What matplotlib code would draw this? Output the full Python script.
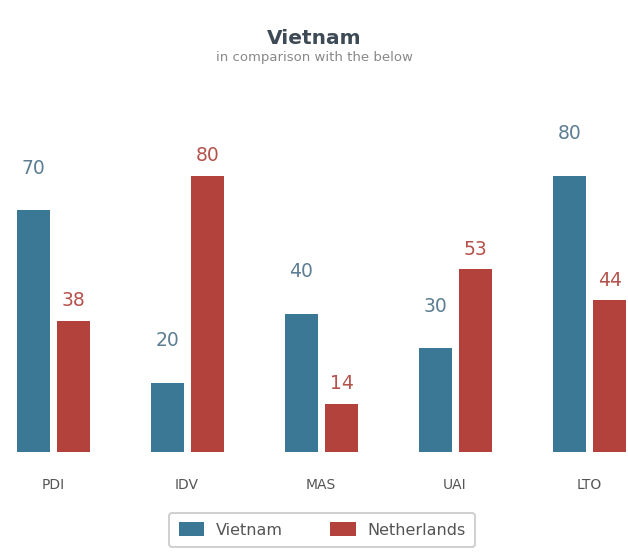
import numpy as np
import matplotlib.pyplot as plt

categories = ["PDI", "IDV", "MAS", "UAI", "LTO"]
vietnam = [70, 20, 40, 30, 80]
netherlands = [38, 80, 14, 53, 44]

blue = "#3b7896"
red = "#b3423d"

fig = plt.figure(figsize=(6.28, 5.52), dpi=100)
ax = fig.add_axes([0, 100 / 552, 1, 332 / 552])

x = np.arange(len(categories))
w = 0.245
b1 = ax.bar(x - 0.148, vietnam, w, color=blue, label="Vietnam")
b2 = ax.bar(x + 0.155, netherlands, w, color=red, label="Netherlands")

ax.set_xlim(-0.396, 4.291)
ax.set_ylim(0, 96.2)

for xi, v in zip(x - 0.148, vietnam):
    ax.annotate(str(v), (xi, v), xytext=(0, 42), textcoords="offset pixels",
                ha="center", va="center", fontsize=13.5, color="#5c7d92")
for xi, v in zip(x + 0.155, netherlands):
    ax.annotate(str(v), (xi, v), xytext=(0, 20), textcoords="offset pixels",
                ha="center", va="center", fontsize=13.5, color="#b5524c")

ax.set_xticks(x)
ax.set_xticklabels(categories, fontsize=10, color="#555555")
ax.tick_params(axis="x", length=0, pad=19)
ax.set_yticks([])
for s in ax.spines.values():
    s.set_visible(False)

fig.text(0.5, 1 - 39 / 552, "Vietnam", ha="center", va="center",
         fontsize=14.5, fontweight="bold", color="#3d4a56")
fig.text(0.5, 1 - 58 / 552, "in comparison with the below", ha="center", va="center",
         fontsize=9.5, color="#888888")

leg = fig.legend(handles=[b1, b2], loc="center", bbox_to_anchor=(322 / 628, 1 - 530 / 552),
                 ncol=2, fontsize=11.5, frameon=True, fancybox=True, handlelength=1.6,
                 handleheight=1.0, handletextpad=0.7, columnspacing=3.0, borderpad=0.6,
                 labelcolor="#555555")
leg.get_frame().set_edgecolor("#bbbbbb")
leg.get_frame().set_linewidth(1.2)

fig.savefig("out.png", dpi=100)
